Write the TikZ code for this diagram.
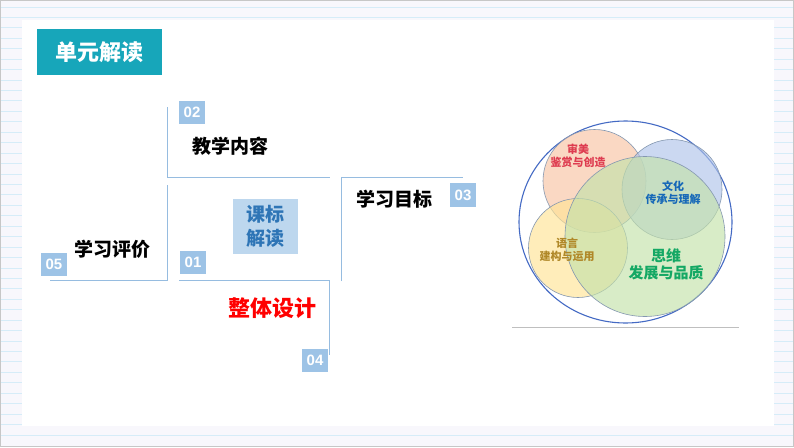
\documentclass[tikz,border=0pt]{standalone}
\usepackage{fontspec}
\setmainfont{Noto Sans CJK SC}
\newfontfamily\numfont{Liberation Sans}
\usepackage{tikz}
\definecolor{pagebg}{RGB}{248,247,252}
\definecolor{stripe}{RGB}{214,236,248}
\definecolor{teal}{RGB}{23,166,186}
\definecolor{numblue}{RGB}{157,195,230}
\definecolor{paleblue}{RGB}{189,215,238}
\definecolor{darkblue}{RGB}{46,117,182}
\definecolor{linkblue}{RGB}{150,188,224}
\definecolor{peach}{RGB}{248,196,164}
\definecolor{lavblue}{RGB}{176,196,234}
\definecolor{paleyellow}{RGB}{255,228,150}
\definecolor{palegreen}{RGB}{196,226,170}
\definecolor{ringblue}{RGB}{68,106,196}
\definecolor{edgegray}{RGB}{132,151,176}
\definecolor{crimson}{RGB}{222,60,80}
\definecolor{culture}{RGB}{22,104,184}
\definecolor{gold}{RGB}{176,136,40}
\definecolor{thinkgreen}{RGB}{20,168,100}

\begin{document}
\begin{tikzpicture}[x=1pt, y=-1pt,
	numbox/.style={fill=numblue, text=white, minimum width=26pt, minimum height=23pt, inner sep=0pt, font=\numfont\bfseries\fontsize{15}{15}\selectfont},
	heading/.style={font=\fontsize{19}{19}\selectfont\bfseries, inner sep=0pt},
	corner/.style={draw=linkblue, line width=0.9pt},
	venn/.style={draw=edgegray, line width=0.6pt, fill opacity=0.65},
	vtext/.style={font=\fontsize{11}{13}\selectfont\bfseries, align=center, inner sep=0pt}]
	%%%%% START %%%%%
	\useasboundingbox (0,0) rectangle (794,447);
	\fill[pagebg] (0,0) rectangle (794,447);
	\foreach \k in {0,...,41}
		\draw[stripe, line width=1pt] (0,{7+10.44*\k}) -- (794,{7+10.44*\k});
	\draw[black!22] (0.5,0.5) rectangle (793.5,446.5);
	\fill[white] (22,20) rectangle (774,426);
	
	\node[fill=teal, text=white, minimum width=125pt, minimum height=46pt, inner sep=0pt, font=\fontsize{22}{22}\selectfont\bfseries] (title) at (99.5,52) {单元解读};
	
	% corners
	\coordinate (c2a) at (167,107); \coordinate (c2b) at (167,177); \coordinate (c2c) at (330,177);
	\coordinate (c5a) at (167,185); \coordinate (c5b) at (167,280); \coordinate (c5c) at (50,280);
	\coordinate (c1a) at (179,280); \coordinate (c1b) at (329,280); \coordinate (c1c) at (329,355);
	\coordinate (c3a) at (341,281); \coordinate (c3b) at (341,177); \coordinate (c3c) at (463,177);
	\draw[corner] (c2a) -- (c2b) -- (c2c);
	\draw[corner] (c5a) -- (c5b) -- (c5c);
	\draw[corner] (c1a) -- (c1b) -- (c1c);
	\draw[corner] (c3a) -- (c3b) -- (c3c);
	
	\node[numbox] (n02) at (192,112) {02};
	\node[numbox] (n05) at (54,264.5) {05};
	\node[numbox] (n01) at (193,262.5) {01};
	\node[numbox] (n04) at (315,360) {04};
	\node[numbox, minimum height=24pt] (n03) at (463,195) {03};
	
	\node[heading] (content) at (230,146) {教学内容};
	\node[heading] (evaluate) at (112,249) {学习评价};
	\node[heading] (goal) at (394,199) {学习目标};
	\node[fill=paleblue, text=darkblue, minimum width=65pt, minimum height=55pt, inner sep=0pt, align=center, font=\fontsize{19}{24}\selectfont\bfseries] (standard) at (265.5,226.5) {课标\\解读};
	\node[heading, text=red, font=\fontsize{22}{22}\selectfont\bfseries] (design) at (272,308) {整体设计};
	
	% circles
	\draw[ringblue, line width=1.1pt] (625.5,222) ellipse (106.5pt and 101pt);
	\draw[venn, fill=peach] (594.5,181) circle (51.5pt);
	\draw[venn, fill=lavblue] (672,189.5) circle (50pt);
	\draw[venn, fill=paleyellow] (578,248) circle (49.5pt);
	\draw[venn, fill=palegreen] (645,236.5) circle (80pt);
	\draw[black!25, line width=0.8pt] (512,327) -- (739,327);
	
	\node[vtext, text=crimson] (beauty) at (578,155.5) {审美\\鉴赏与创造};
	\node[vtext, text=culture] (culture) at (673,193) {文化\\传承与理解};
	\node[vtext, text=gold] (language) at (567,250) {语言\\建构与运用};
	\node[vtext, text=thinkgreen, font=\fontsize{15}{17}\selectfont\bfseries] (thinking) at (666,264.5) {思维\\发展与品质};
	%%%%% END %%%%%
\end{tikzpicture}
\end{document}
